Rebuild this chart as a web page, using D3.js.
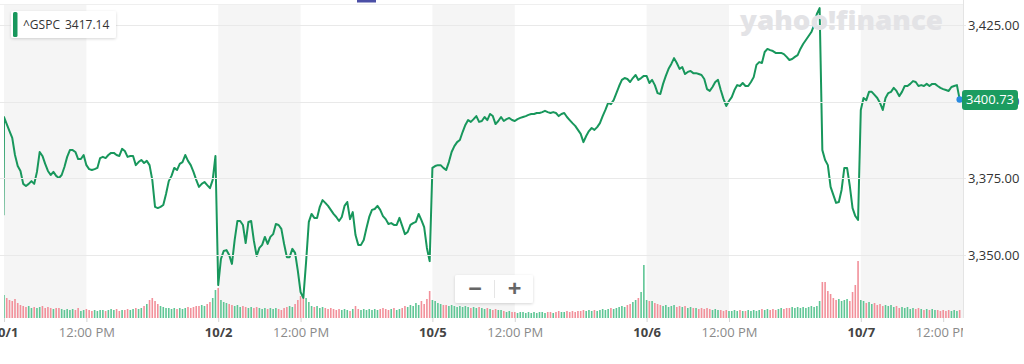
<!DOCTYPE html>
<html><head><meta charset="utf-8">
<script src="https://cdn.jsdelivr.net/npm/d3@7"></script>
<style>html,body{margin:0;padding:0;background:#fff;overflow:hidden}svg{display:block;font-family:"Open Sans",sans-serif}</style>
</head><body><svg id="c" width="1024" height="364"></svg>
<script>
// ---- data ----
const symbol = "^GSPC";
const hoverValue = "3417.14";
const days = ["10/1", "10/2", "10/5", "10/6", "10/7"];
const noonLabel = "12:00 PM";
const yTicks = [3350, 3375, 3400, 3425];
const prevClose = 3363.00;
// 5-minute closes from 9:30
const oct1 = [3395.0,3392.7,3390.4,3388.2,3382.6,3379.0,3377.4,3373.2,3372.5,3373.2,
3374.1,3373.2,3377.1,3383.6,3382.3,3379.7,3377.4,3376.1,3377.1,3375.8,
3375.1,3376.1,3378.7,3382.0,3384.2,3384.2,3383.6,3381.3,3381.3,3382.6,
3379.3,3378.0,3377.7,3378.0,3378.4,3381.6,3382.0,3381.6,3382.6,3383.3,
3383.3,3382.6,3382.3,3384.6,3383.9,3382.0,3382.3,3382.3,3379.3,3380.3,
3381.0,3380.0,3380.7,3379.3,3374.5,3365.7,3365.3,3365.7,3366.3,3369.9,
3374.1,3375.8,3378.4,3377.7,3379.7,3380.3,3382.6,3380.7,3379.3,3377.1,
3374.5,3372.2,3373.2,3373.8,3372.8,3371.8,3374.5,3382.3];
const oct2 = [3340.2,3348.7,3351.3,3351.6,3350.0,3347.1,3354.9,3361.1,3361.1,3359.8,
3353.9,3360.8,3361.1,3354.6,3349.7,3352.3,3353.3,3355.9,3353.6,3355.9,
3356.8,3360.1,3359.8,3358.5,3353.6,3349.3,3349.3,3352.0,3350.7,3344.8,
3337.9,3336.0,3347.7,3360.8,3363.4,3362.1,3362.1,3365.7,3367.9,3367.0,
3366.0,3364.7,3363.4,3362.4,3361.1,3362.4,3366.0,3367.3,3361.7,3364.0,
3356.5,3353.3,3353.3,3354.9,3358.8,3362.4,3364.7,3365.0,3366.0,3364.7,
3362.7,3361.7,3360.1,3360.4,3359.8,3359.8,3362.1,3359.5,3356.8,3357.5,
3359.8,3360.4,3360.8,3363.4,3361.4,3359.1,3352.3,3348.0];
const oct5 = [3378.4,3379.0,3379.3,3379.3,3378.4,3377.7,3380.3,3383.6,3385.5,3386.8,
3387.5,3390.1,3392.4,3394.0,3393.4,3394.3,3395.3,3393.4,3393.7,3395.0,
3394.0,3396.0,3395.3,3392.7,3393.7,3395.0,3393.7,3394.3,3394.7,3394.0,
3393.7,3394.3,3394.7,3395.0,3395.3,3395.7,3396.0,3396.0,3396.3,3396.3,
3396.6,3397.0,3396.6,3396.3,3396.6,3396.3,3395.3,3396.0,3396.3,3395.0,
3394.0,3393.0,3392.1,3390.8,3389.5,3386.8,3388.8,3390.4,3391.4,3390.8,
3391.7,3393.0,3395.3,3397.3,3399.6,3399.2,3400.5,3402.8,3405.1,3407.1,
3407.7,3407.4,3406.4,3407.7,3408.7,3407.1,3407.7,3408.4];
const oct6 = [3408.4,3406.1,3407.1,3405.4,3402.8,3402.5,3405.8,3408.4,3410.7,3412.3,
3414.2,3412.6,3410.7,3411.3,3409.0,3409.7,3410.0,3409.3,3409.3,3409.0,
3408.7,3407.4,3404.1,3403.5,3404.8,3406.4,3407.1,3403.8,3400.9,3398.6,
3400.2,3401.5,3403.8,3405.4,3405.1,3406.1,3405.1,3405.1,3406.4,3408.0,
3412.0,3412.9,3412.6,3416.2,3417.2,3416.8,3416.5,3415.9,3415.9,3415.9,
3415.5,3414.6,3413.6,3413.9,3414.6,3415.2,3417.2,3418.8,3420.1,3421.4,
3422.7,3425.0,3428.6,3430.5,3384.2,3381.0,3379.3,3372.2,3369.6,3367.0,
3367.3,3371.2,3378.4,3378.4,3372.5,3365.3,3362.7,3361.4];
const oct7 = [3397.3,3401.2,3400.5,3403.2,3403.2,3402.2,3401.2,3399.6,3397.3,3401.2,
3402.8,3403.2,3404.5,3403.5,3401.8,3403.2,3405.1,3405.1,3405.8,3406.7,
3406.4,3405.1,3405.4,3405.1,3405.8,3405.1,3405.8,3405.8,3405.1,3404.5,
3404.1,3403.8,3403.5,3404.8,3405.1,3405.4,3400.73];
// 5-minute volume (millions)
const vol1 = [23,20,18,17,19,15,13,12,11,12,10,11,10,11,12,10,11,10,9,10,
10,9,8,9,8,9,8,10,7,8,9,8,7,8,7,8,8,7,8,9,8,9,7,8,8,9,8,9,10,9,
10,12,14,18,20,17,14,12,11,10,10,9,10,9,10,9,10,11,10,11,12,12,13,12,14,16,20,28];
const vol2 = [30,18,16,15,14,13,12,13,11,12,11,10,11,10,11,10,9,10,9,10,
9,10,9,8,10,11,12,11,14,18,22,23,20,16,12,11,12,10,11,10,9,10,9,8,9,8,9,8,7,9,
12,9,8,9,8,9,8,9,8,9,10,9,8,9,10,8,9,10,12,11,13,12,15,13,17,14,19,27];
const vol3 = [18,17,15,14,13,13,12,13,12,11,12,11,12,11,10,11,10,11,10,9,
10,9,8,9,8,8,7,6,7,6,6,5,6,6,5,6,5,6,5,6,6,5,6,6,5,6,7,6,6,7,
6,7,6,7,7,8,7,8,7,8,7,8,9,8,9,10,9,10,11,12,11,13,14,16,18,20,26,53];
const vol4 = [18,17,17,15,14,13,12,13,11,12,13,11,12,11,12,10,11,10,10,9,
10,9,10,9,8,9,8,8,7,8,7,7,8,7,8,7,7,8,7,8,7,8,9,8,9,8,9,8,9,10,
9,10,10,11,10,11,10,11,10,11,12,11,12,17,36,36,27,24,20,18,19,17,18,19,17,26,33,57];
const vol5 = [18,17,15,16,14,15,13,14,12,13,12,13,11,12,10,11,10,11,9,10,
9,10,9,8,9,8,9,8,8,7,8,7,8,7,8,7,8];

// ---- chart ----
const prices = [oct1, oct2, oct5, oct6, oct7];
const volumes = [vol1, vol2, vol3, vol4, vol5];
const SESSION = 390, STEP = 5;
const plotL = 4, plotR = 963, plotT = 4, plotB = 318;
const lineColor = "#18975c", upColor = "#5fc695", downColor = "#f2909a";

const x = d3.scaleLinear().domain([0, days.length * SESSION]).range([4, 4 + days.length * 214.2]);
const y = d3.scaleLinear().domain([3350, 3425]).range([255, 25]);
const yv = d3.scaleLinear().domain([0, 60]).range([plotB, plotB - 60]);

const pts = [{t: -1, v: prevClose}];
prices.forEach((arr, d) => arr.forEach((v, k) => pts.push({t: d * SESSION + k * STEP, v})));
const bars = [];
let idx = 1;
volumes.forEach((arr, d) => arr.forEach((v, k) => {
  const p = pts[idx], prev = pts[idx - 1];
  bars.push({t: d * SESSION + k * STEP, v, up: p.v >= prev.v});
  idx++;
}));

const svg = d3.select("#c");
const defs = svg.append("defs");
defs.append("clipPath").attr("id", "plot").append("rect")
  .attr("x", plotL).attr("y", 0).attr("width", plotR - plotL).attr("height", plotB);
defs.append("clipPath").attr("id", "xax").append("rect")
  .attr("x", -20).attr("y", -10).attr("width", plotR + 20).attr("height", 60);
const sh = defs.append("filter").attr("id", "sh").attr("x", "-20%").attr("y", "-30%").attr("width", "140%").attr("height", "170%");
sh.append("feDropShadow").attr("dx", 0).attr("dy", 1).attr("stdDeviation", 1.6).attr("flood-color", "#000").attr("flood-opacity", 0.16);

// top indicator
svg.append("rect").attr("x", 357).attr("y", 0).attr("width", 19).attr("height", 2.5).attr("fill", "#4b4fa6");

const g = svg.append("g").attr("clip-path", "url(#plot)");
// background bands: open -> noon
days.forEach((d, i) => {
  const x0 = x(i * SESSION);
  const x1 = i === days.length - 1 ? plotR : x(i * SESSION + 150);
  g.append("rect").attr("x", x0).attr("y", plotT).attr("width", x1 - x0).attr("height", plotB - plotT).attr("fill", "#f5f5f5");
});
// top border line
svg.append("line").attr("x1", 0).attr("x2", plotR).attr("y1", plotT + 0.5).attr("y2", plotT + 0.5).attr("stroke", "#efefef");
// gridlines
svg.append("g").selectAll("line").data(yTicks).join("line")
  .attr("x1", 0).attr("x2", plotR + 3).attr("y1", d => Math.round(y(d)) + 0.5).attr("y2", d => Math.round(y(d)) + 0.5)
  .attr("stroke", "#e9e9e9");
// right axis line
svg.append("line").attr("x1", plotR + 0.5).attr("x2", plotR + 0.5).attr("y1", 0).attr("y2", plotB).attr("stroke", "#e4e4e4");

// watermark
svg.append("text").attr("x", 740).attr("y", 30).attr("font-size", 27).attr("font-weight", 800)
  .attr("fill", "#e3e3e6").attr("textLength", 203).attr("lengthAdjust", "spacingAndGlyphs")
  .text("yahoo!finance");

// volume
g.append("g").selectAll("rect").data(bars).join("rect")
  .attr("x", d => x(d.t) - 0.8).attr("width", 1.6)
  .attr("y", d => yv(d.v)).attr("height", d => plotB - yv(d.v))
  .attr("fill", d => d.up ? upColor : downColor);

// price line
g.append("path").datum(pts)
  .attr("d", d3.line().x(d => x(d.t)).y(d => y(d.v)))
  .attr("fill", "none").attr("stroke", lineColor).attr("stroke-width", 2).attr("stroke-linejoin", "round");

// right axis labels
const ya = svg.append("g").attr("transform", `translate(${plotR},0)`)
  .call(d3.axisRight(y).tickValues(yTicks).tickFormat(d3.format(",.2f")).tickSize(0).tickPadding(5));
ya.select(".domain").remove();
ya.selectAll("text").attr("font-family", "Open Sans").attr("font-size", 13).attr("fill", "#333");

// bottom axis
const xt = [];
days.forEach((d, i) => { xt.push({t: i * SESSION, label: d, day: true}); xt.push({t: i * SESSION + 150, label: noonLabel, day: false}); });
const xa = svg.append("g").attr("transform", `translate(0,${plotB})`).attr("clip-path", "url(#xax)")
  .call(d3.axisBottom(x).tickValues(xt.map(d => d.t)).tickFormat((t, i) => xt[i].label).tickSize(4).tickPadding(6));
xa.select(".domain").remove();
xa.selectAll(".tick line").attr("stroke", "#d5d5d5");
xa.selectAll(".tick text").attr("font-family", "Open Sans").attr("font-size", 13)
  .attr("font-weight", (t, i) => xt[i].day ? 700 : 400)
  .attr("fill", (t, i) => xt[i].day ? "#444" : "#8a8a8a");

// last price marker
const last = pts[pts.length - 1];
svg.append("circle").attr("cx", x(last.t)).attr("cy", y(last.v)).attr("r", 3.2).attr("fill", "#2a8ae0");
svg.append("rect").attr("x", 962).attr("y", y(last.v) - 9.5).attr("width", 56).attr("height", 20).attr("rx", 3).attr("fill", "#1b9c60");
svg.append("text").attr("x", 990).attr("y", y(last.v) + 0.5).attr("dy", "0.35em").attr("text-anchor", "middle")
  .attr("font-size", 13).attr("fill", "#fff").text(d3.format(".2f")(last.v));

// legend
const lg = svg.append("g");
lg.append("rect").attr("x", 11).attr("y", 11).attr("width", 105).attr("height", 27).attr("rx", 2).attr("fill", "#fff").attr("filter", "url(#sh)");
lg.append("rect").attr("x", 13).attr("y", 12).attr("width", 4.5).attr("height", 25).attr("rx", 1.5).attr("fill", lineColor);
lg.append("text").attr("x", 23).attr("y", 29.3).attr("font-size", 12).attr("fill", "#333").text(symbol);
lg.append("text").attr("x", 65).attr("y", 29.3).attr("font-size", 12).attr("fill", "#333").text(hoverValue);

// zoom buttons
const zb = svg.append("g");
zb.append("rect").attr("x", 455).attr("y", 275).attr("width", 78).attr("height", 28).attr("rx", 2).attr("fill", "#fff").attr("filter", "url(#sh)");
zb.append("line").attr("x1", 494.5).attr("x2", 494.5).attr("y1", 280).attr("y2", 298).attr("stroke", "#e5e5e5");
zb.append("text").attr("x", 475).attr("y", 289).attr("dy", "0.35em").attr("text-anchor", "middle").attr("font-size", 24).attr("font-weight", 700).attr("fill", "#666").text("\u2212");
zb.append("text").attr("x", 514.5).attr("y", 289).attr("dy", "0.35em").attr("text-anchor", "middle").attr("font-size", 24).attr("font-weight", 700).attr("fill", "#666").text("+");
</script></body></html>
